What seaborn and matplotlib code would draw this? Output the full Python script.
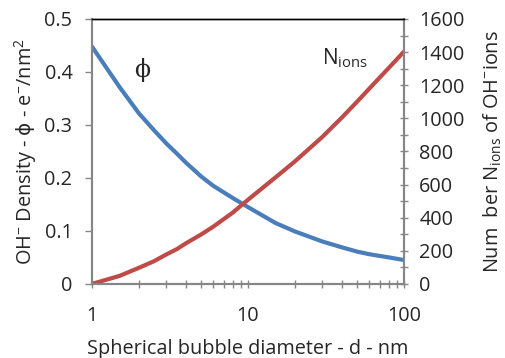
import numpy as np
import pandas as pd
import seaborn as sns
import matplotlib.pyplot as plt
from matplotlib.ticker import LogLocator, NullFormatter, MultipleLocator

# values
d = [1, 1.5, 2, 2.5, 3, 3.5, 4, 5, 6, 8, 10, 15, 20, 30, 40, 50, 60, 80, 100]
phi = [0.448, 0.372, 0.322, 0.290, 0.265, 0.246, 0.229, 0.203, 0.185, 0.162,
       0.145, 0.115, 0.099, 0.080, 0.069, 0.061, 0.056, 0.050, 0.045]
n_ions = [0, 48, 97, 137, 178, 210, 245, 298, 346, 431,
          508, 643, 740, 888, 1005, 1100, 1180, 1305, 1403]

df = pd.DataFrame({"d": d, "phi": phi, "N": n_ions})

sns.set_style("white")
plt.rcParams['font.family'] = ['Open Sans', 'DejaVu Sans']
plt.rcParams['mathtext.fontset'] = 'custom'
plt.rcParams['mathtext.rm'] = 'Open Sans'
plt.rcParams['mathtext.it'] = 'DejaVu Sans'
plt.rcParams['mathtext.fallback'] = 'cm'
fs = 14.3

fig = plt.figure(figsize=(5.05, 3.58), dpi=100)
ax = fig.add_axes([0.182, 0.207, 0.618, 0.740])
ax2 = ax.twinx()

sns.lineplot(data=df, x="d", y="phi", ax=ax, color="#4A7EBB", lw=3)
sns.lineplot(data=df, x="d", y="N", ax=ax2, color="#BE4B48", lw=3)

grey = "#868686"
ax.set_xscale("log")
ax.set_xlim(1, 100)
ax.set_ylim(0, 0.5)
ax2.set_ylim(0, 1600)
ax.set_yticks([0, 0.1, 0.2, 0.3, 0.4, 0.5])
ax.set_yticklabels(["0", "0.1", "0.2", "0.3", "0.4", "0.5"])
ax.set_xticks([1, 10, 100])
ax.set_xticklabels(["1", "10", "100"])
ax.xaxis.set_minor_locator(LogLocator(base=10, subs=np.arange(2, 10)))
ax.xaxis.set_minor_formatter(NullFormatter())
ax2.yaxis.set_major_locator(MultipleLocator(200))
ax2.yaxis.set_minor_locator(MultipleLocator(100))

ax.tick_params(axis="y", which="major", direction="out", length=5, width=1,
               color=grey, labelsize=fs, pad=9, left=True)
ax.tick_params(axis="x", which="both", direction="inout", length=6, width=1,
               color=grey, labelsize=fs, pad=13, bottom=True)
ax2.tick_params(axis="y", which="both", direction="inout", length=6, width=1,
                color=grey, labelsize=fs, pad=8, right=True)

for a in (ax, ax2):
    for s in ("left", "right", "bottom"):
        a.spines[s].set_color(grey)
        a.spines[s].set_linewidth(1.5)
    a.spines["top"].set_color("black")
    a.spines["top"].set_linewidth(1)

ax.set_xlabel("Spherical bubble diameter - d - nm", fontsize=fs, labelpad=9)
ax.set_ylabel(r"OH$^{-}$ Density - $\phi$ - e$^{-}$/nm$^{2}$", fontsize=fs, labelpad=4)
ax2.set_ylabel(r"Num  ber N$_{\mathrm{ions}}$ of OH$^{-}$ions", fontsize=fs, labelpad=12)

ax.text(2.09, 0.404, "ϕ", fontsize=17, family="DejaVu Serif", ha="center", va="center")
ax.text(30, 0.426, r"N$_{\mathrm{ions}}$", fontsize=fs + 0.7, va="center")

fig.savefig("out.png", dpi=100)
